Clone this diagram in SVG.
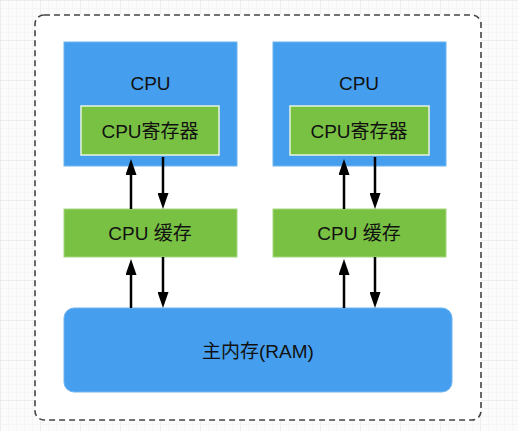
<svg xmlns="http://www.w3.org/2000/svg" width="518" height="431" viewBox="0 0 518 431">
  <defs>
    <pattern id="gridMinor" width="8" height="8" patternUnits="userSpaceOnUse">
      <path d="M8 0 L0 0 0 8" fill="none" stroke="#efefef" stroke-width="1"/>
    </pattern>
    <pattern id="grid" width="40" height="40" patternUnits="userSpaceOnUse">
      <rect width="40" height="40" fill="url(#gridMinor)"/>
      <path d="M40 0 L0 0 0 40" fill="none" stroke="#e4e4e4" stroke-width="1"/>
    </pattern>
    <marker id="arrow" viewBox="0 0 16 11" markerWidth="16" markerHeight="11" refX="2" refY="5.5" orient="auto" markerUnits="userSpaceOnUse">
      <path d="M0 0 L16 5.5 L0 11 Z" fill="#000"/>
    </marker>
  </defs>
  <style>
    .blue { fill: #459fee; stroke: #6fb4f0; stroke-width: 1; }
    .green { fill: #79c143; stroke: #a6d77f; stroke-width: 1; }
    .reg { fill: #79c143; stroke: #e8f4de; stroke-width: 1.5; }
    .label { font-family: "Liberation Sans", "Noto Sans CJK SC", sans-serif; font-size: 19px; fill: #111; text-anchor: middle; dominant-baseline: central; }
    .conn line { stroke: #000; stroke-width: 2.5; marker-end: url(#arrow); }
  </style>
  <rect x="0" y="0" width="518" height="431" fill="#fbfbfb"/>
  <rect x="0" y="0" width="518" height="431" fill="url(#grid)"/>
  <g id="container">
    <rect x="35" y="15" width="446" height="405" rx="9" ry="9" fill="#fff" stroke="#444" stroke-width="1.6" stroke-dasharray="6 4"/>
  </g>
  <g id="cpu1">
    <rect class="blue" x="64" y="42" width="173" height="124"/>
    <text class="label" x="150.5" y="83">CPU</text>
  </g>
  <g id="reg1">
    <rect class="reg" x="81" y="106" width="138" height="49"/>
    <text class="label" x="150" y="131">CPU寄存器</text>
  </g>
  <g id="cpu2">
    <rect class="blue" x="273" y="42" width="173" height="124"/>
    <text class="label" x="359" y="83">CPU</text>
  </g>
  <g id="reg2">
    <rect class="reg" x="290" y="106" width="139" height="49"/>
    <text class="label" x="359" y="131">CPU寄存器</text>
  </g>
  <g id="cache1">
    <rect class="green" x="64" y="209" width="173" height="48"/>
    <text class="label" x="150" y="233">CPU 缓存</text>
  </g>
  <g id="cache2">
    <rect class="green" x="273" y="209" width="173" height="48"/>
    <text class="label" x="359" y="233">CPU 缓存</text>
  </g>
  <g id="ram">
    <rect class="blue" x="64" y="308" width="388" height="84" rx="10" ry="10"/>
    <text class="label" x="258" y="351">主内存(RAM)</text>
  </g>
  <g id="connectors" class="conn">
    <line x1="131" y1="209" x2="131" y2="173"/>
    <line x1="163" y1="157" x2="163" y2="195"/>
    <line x1="344" y1="209" x2="344" y2="173"/>
    <line x1="375" y1="157" x2="375" y2="195"/>
    <line x1="131" y1="308" x2="131" y2="273"/>
    <line x1="163" y1="257" x2="163" y2="294"/>
    <line x1="344" y1="308" x2="344" y2="273"/>
    <line x1="375" y1="257" x2="375" y2="294"/>
  </g>
</svg>
